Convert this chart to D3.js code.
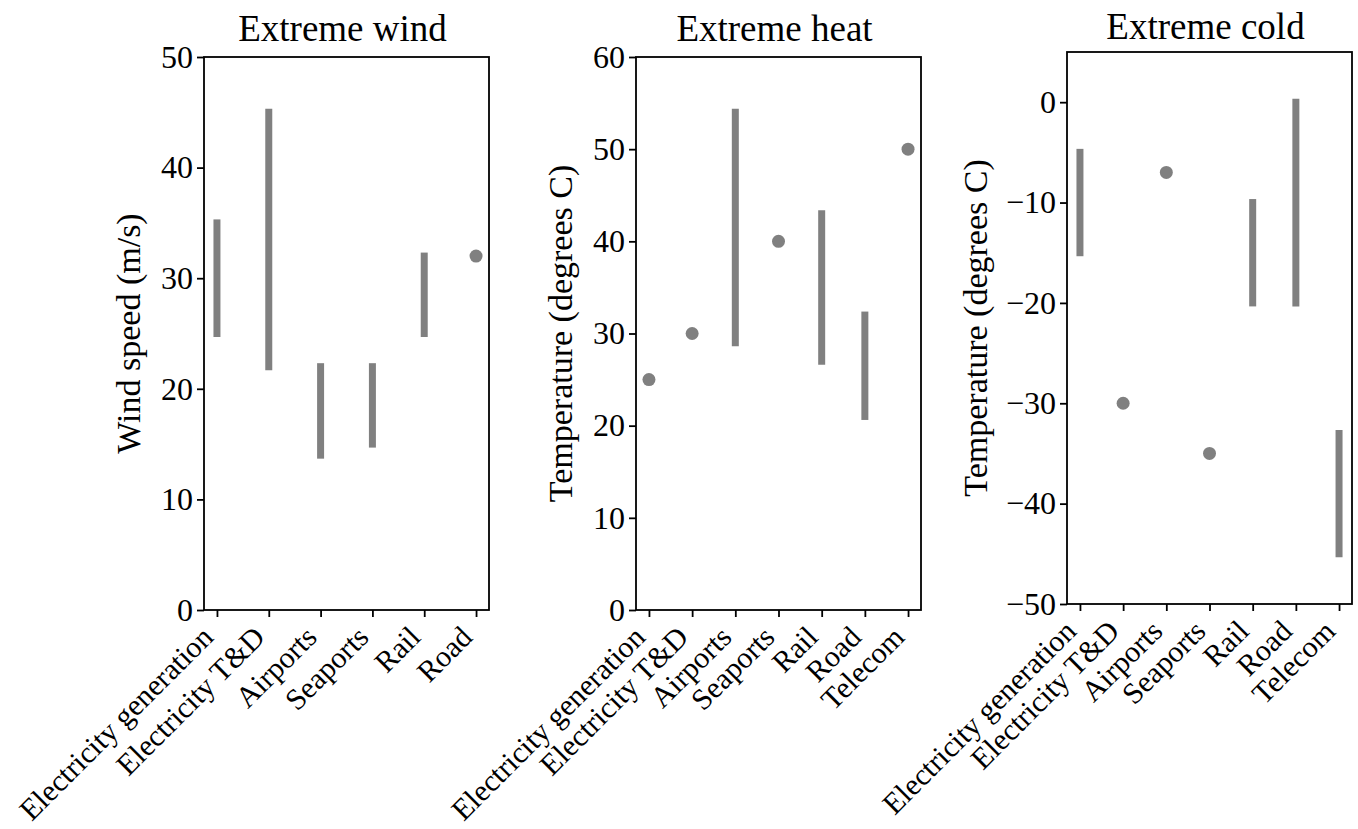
<!DOCTYPE html>
<html>
<head>
<meta charset="utf-8">
<script src="https://cdn.jsdelivr.net/npm/d3@7"></script>
<style>
  body { margin: 0; background: #fff; }
  svg { display: block; font-family: "Liberation Serif", "Times New Roman", serif; }
</style>
</head>
<body>
<div id="chart"></div>
<script>
// categories
let windCats = ["Electricity generation", "Electricity T&D", "Airports", "Seaports", "Rail", "Road"];
let heatCats = ["Electricity generation", "Electricity T&D", "Airports", "Seaports", "Rail", "Road", "Telecom"];
let coldCats = ["Electricity generation", "Electricity T&D", "Airports", "Seaports", "Rail", "Road", "Telecom"];

// thresholds: low/high, a dot where they are equal
let windLow  = [25, 22, 14, 15, 25, 32];
let windHigh = [35, 45, 22, 22, 32, 32];
let heatLow  = [25, 30, 29, 40, 27, 21, 50];
let heatHigh = [25, 30, 54, 40, 43, 32, 50];
let coldLow  = [-15, -30, -7, -35, -20, -20, -45];
let coldHigh = [-5, -30, -7, -35, -10, 0, -33];

// y ticks
let windTicks = [0, 10, 20, 30, 40, 50];
let heatTicks = [0, 10, 20, 30, 40, 50, 60];
let coldTicks = [-50, -40, -30, -20, -10, 0];

const W = 1358, H = 829;
const grey = "#808080";
const tickFont = 32, catFont = 30, titleFont = 37, labelFont = 34;

let svg = d3.select("#chart").append("svg")
    .attr("width", W).attr("height", H);

function panel({cats, low, high, ticks, ydom, title, ylabel, x0, x1, y0, y1, labelX, titleY}) {
    let n = cats.length;
    let m = (n - 1) * 0.05;
    let x = d3.scaleLinear().domain([-m, n - 1 + m]).range([x0, x1]);
    let y = d3.scaleLinear().domain(ydom).range([y1, y0]);
    let g = svg.append("g");

    // marks
    let rows = cats.map((c, i) => ({c: c, i: i, lo: low[i], hi: high[i]}));
    g.selectAll("line.rng")
        .data(rows.filter(d => d.lo != d.hi))
        .join("line")
        .attr("class", "rng")
        .attr("x1", d => x(d.i)).attr("x2", d => x(d.i))
        .attr("y1", d => y(d.lo)).attr("y2", d => y(d.hi))
        .attr("stroke", grey)
        .attr("stroke-width", 7)
        .attr("stroke-linecap", "square");
    g.selectAll("circle.pt")
        .data(rows.filter(d => d.lo == d.hi))
        .join("circle")
        .attr("class", "pt")
        .attr("cx", d => x(d.i)).attr("cy", d => y(d.lo))
        .attr("r", 6.5)
        .attr("fill", grey);

    // y axis
    let fmt = v => (v < 0 ? "\u2212" + Math.abs(v) : "" + v);
    let ya = g.append("g")
        .attr("transform", `translate(${x0},0)`)
        .call(d3.axisLeft(y).tickValues(ticks).tickFormat(fmt).tickSize(7).tickSizeOuter(0).tickPadding(4));
    ya.select(".domain").remove();
    ya.selectAll(".tick line").attr("stroke-width", 1.8);
    ya.selectAll(".tick text").attr("font-size", tickFont).attr("fill", "#000")
        .attr("font-family", "Liberation Serif, Times New Roman, serif");

    // x axis ticks
    let xa = g.append("g")
        .attr("transform", `translate(0,${y1})`)
        .call(d3.axisBottom(x).tickValues(d3.range(n)).tickFormat("").tickSize(7).tickSizeOuter(0));
    xa.select(".domain").remove();
    xa.selectAll(".tick line").attr("stroke-width", 1.8);

    // rotated category labels, top-right corner hung under the tick
    let c45 = Math.SQRT1_2;
    g.selectAll("text.cat")
        .data(rows)
        .join("text")
        .attr("class", "cat")
        .attr("text-anchor", "end")
        .attr("font-size", catFont)
        .attr("transform", d => {
            let px = x(d.i) - 0.1 * catFont * c45;
            let py = y1 + 13 + 0.75 * catFont * c45;
            return `translate(${px},${py}) rotate(-45)`;
        })
        .text(d => d.c);

    // frame
    g.append("rect")
        .attr("x", x0).attr("y", y0)
        .attr("width", x1 - x0).attr("height", y1 - y0)
        .attr("fill", "none").attr("stroke", "#000").attr("stroke-width", 1.8);

    // title and y label
    g.append("text")
        .attr("x", (x0 + x1) / 2 - 4).attr("y", titleY)
        .attr("text-anchor", "middle")
        .attr("font-size", titleFont)
        .text(title);
    g.append("text")
        .attr("transform", `translate(${labelX},${(y0 + y1) / 2}) rotate(-90)`)
        .attr("text-anchor", "middle")
        .attr("dominant-baseline", "central")
        .attr("font-size", labelFont)
        .text(ylabel);
}

panel({cats: windCats, low: windLow, high: windHigh, ticks: windTicks, ydom: [0, 50],
    title: "Extreme wind", ylabel: "Wind speed (m/s)",
    x0: 204, x1: 489, y0: 57, y1: 610, labelX: 128, titleY: 41});
panel({cats: heatCats, low: heatLow, high: heatHigh, ticks: heatTicks, ydom: [0, 60],
    title: "Extreme heat", ylabel: "Temperature (degrees C)",
    x0: 636, x1: 921, y0: 57, y1: 610, labelX: 560, titleY: 41});
panel({cats: coldCats, low: coldLow, high: coldHigh, ticks: coldTicks, ydom: [-50, 5],
    title: "Extreme cold", ylabel: "Temperature (degrees C)",
    x0: 1067, x1: 1352, y0: 52, y1: 604, labelX: 975, titleY: 39});
</script>
</body>
</html>
